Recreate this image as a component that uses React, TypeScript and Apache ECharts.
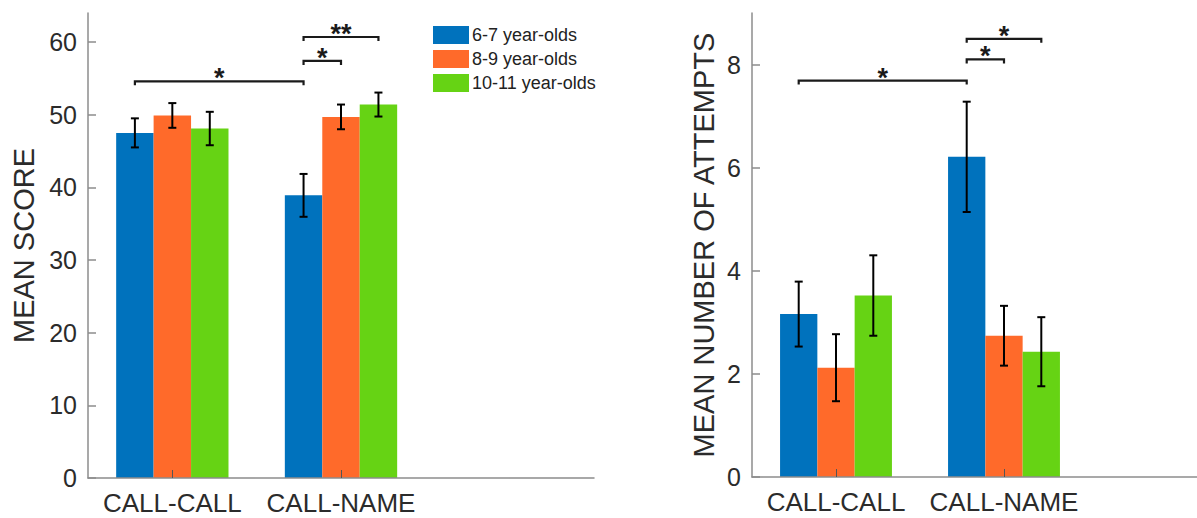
import React, { useEffect, useRef } from 'react';
import * as echarts from 'echarts';

const categories = ['CALL-CALL', 'CALL-NAME'];
const groupNames = ['6-7 year-olds', '8-9 year-olds', '10-11 year-olds'];
const groupColors = ['#0072BD', '#FF6A2A', '#66D314'];

// Left panel: mean score
const scoreMean67 = [47.5, 38.9];
const scoreMean89 = [49.9, 49.7];
const scoreMean1011 = [48.1, 51.4];
const scoreErr67 = [2.0, 2.95];
const scoreErr89 = [1.7, 1.7];
const scoreErr1011 = [2.3, 1.65];
const scoreTicks = [0, 10, 20, 30, 40, 50, 60];

// Right panel: mean number of attempts
const attMean67 = [3.16, 6.21];
const attMean89 = [2.12, 2.74];
const attMean1011 = [3.52, 2.43];
const attErr67 = [0.63, 1.07];
const attErr89 = [0.65, 0.58];
const attErr1011 = [0.78, 0.67];
const attTicks = [0, 2, 4, 6, 8];

// Significance brackets: [category, group] from -> to, height, label
const scoreBrFrom = [[0, 0], [1, 0], [1, 0]];
const scoreBrTo = [[1, 0], [1, 1], [1, 2]];
const scoreBrY = [54.6, 57.4, 60.7];
const scoreBrLabel = ['*', '*', '**'];

const attBrFrom = [[0, 0], [1, 0], [1, 0]];
const attBrTo = [[1, 0], [1, 1], [1, 2]];
const attBrY = [7.69, 8.1, 8.5];
const attBrLabel = ['*', '*', '*'];

const BAR_W = 0.222;
const OFFSETS = [-BAR_W, 0, BAR_W];
const FONT = '"Liberation Sans", Arial, Helvetica, sans-serif';
const TXT = '#2b2b2b';
const AXIS = '#8c8c8c';

function barRender(k: number) {
  return (params: any, api: any) => {
    const x = api.value(0) + OFFSETS[k];
    const v = api.value(1);
    const e = api.value(2);
    const tl = api.coord([x - BAR_W / 2, v]);
    const br = api.coord([x + BAR_W / 2, 0]);
    const top = api.coord([x, v + e]);
    const bot = api.coord([x, v - e]);
    const cw = 4;
    return {
      type: 'group',
      children: [
        { type: 'rect', shape: { x: tl[0], y: tl[1], width: br[0] - tl[0], height: br[1] - tl[1] }, style: { fill: groupColors[k] } },
        { type: 'line', shape: { x1: top[0], y1: top[1], x2: bot[0], y2: bot[1] }, style: { stroke: '#000', lineWidth: 2 }, z2: 10 },
        { type: 'line', shape: { x1: top[0] - cw, y1: top[1], x2: top[0] + cw, y2: top[1] }, style: { stroke: '#000', lineWidth: 2 }, z2: 10 },
        { type: 'line', shape: { x1: bot[0] - cw, y1: bot[1], x2: bot[0] + cw, y2: bot[1] }, style: { stroke: '#000', lineWidth: 2 }, z2: 10 },
      ],
    };
  };
}

function bracketRender(labels: string[]) {
  return (params: any, api: any) => {
    const x1 = api.value(0);
    const x2 = api.value(1);
    const y = api.value(2);
    const p1 = api.coord([x1, y]);
    const p2 = api.coord([x2, y]);
    const d = 4;
    return {
      type: 'group',
      children: [
        {
          type: 'polyline',
          shape: { points: [[p1[0], p1[1] + d], [p1[0], p1[1]], [p2[0], p2[1]], [p2[0], p2[1] + d]] },
          style: { stroke: '#1a1a1a', lineWidth: 2.2, fill: 'none' },
        },
        {
          type: 'text',
          x: (p1[0] + p2[0]) / 2,
          y: p1[1] - 3,
          style: { text: labels[params.dataIndex], fontSize: 27, fontWeight: 'bold', fontFamily: FONT, fill: '#1a1a1a', align: 'center', verticalAlign: 'middle' },
        },
      ],
    };
  };
}

function pos(ci: number, gi: number) {
  return ci + 1 + OFFSETS[gi];
}

function makeXAxis(gridIndex: number, max: number) {
  return {
    type: 'value',
    gridIndex,
    min: 0.5,
    max,
    z: 5,
    axisLine: { show: true, lineStyle: { color: AXIS, width: 1.5 } },
    axisTick: { show: true, inside: true, length: 8, customValues: [1, 2], lineStyle: { color: '#555', width: 1 } },
    axisLabel: {
      customValues: [1, 2],
      formatter: (v: number) => categories[Math.round(v) - 1] || '',
      fontSize: 26,
      fontFamily: FONT,
      color: TXT,
      margin: 12,
    },
    splitLine: { show: false },
  };
}

function makeYAxis(gridIndex: number, max: number, ticks: number[], name: string, nameGap: number) {
  return {
    type: 'value',
    gridIndex,
    min: 0,
    max,
    name,
    nameLocation: 'middle',
    nameGap,
    nameTextStyle: { fontSize: 29, fontFamily: FONT, color: TXT },
    z: 5,
    axisLine: { show: true, lineStyle: { color: AXIS, width: 1.5 } },
    axisTick: { show: true, inside: true, length: 8, customValues: ticks, lineStyle: { color: AXIS, width: 1.5 } },
    axisLabel: { customValues: ticks, fontSize: 25, fontFamily: FONT, color: TXT, margin: 11 },
    splitLine: { show: false },
  };
}

export default function App() {
  const ref = useRef<HTMLDivElement>(null);
  useEffect(() => {
    if (!ref.current) return;
    const chart = echarts.init(ref.current, undefined, { renderer: 'svg' });
    const scoreMeans = [scoreMean67, scoreMean89, scoreMean1011];
    const scoreErrs = [scoreErr67, scoreErr89, scoreErr1011];
    const attMeans = [attMean67, attMean89, attMean1011];
    const attErrs = [attErr67, attErr89, attErr1011];

    const series: any[] = [];
    [0, 1].forEach((gridIdx) => {
      const means = gridIdx === 0 ? scoreMeans : attMeans;
      const errs = gridIdx === 0 ? scoreErrs : attErrs;
      groupNames.forEach((name, k) => {
        series.push({
          type: 'custom',
          name,
          xAxisIndex: gridIdx,
          yAxisIndex: gridIdx,
          itemStyle: { color: groupColors[k] },
          renderItem: barRender(k),
          encode: { x: 0, y: 1 },
          data: means[k].map((m, i) => [i + 1, m, errs[k][i]]),
        });
      });
    });
    const brackets = [
      { from: scoreBrFrom, to: scoreBrTo, y: scoreBrY, labels: scoreBrLabel },
      { from: attBrFrom, to: attBrTo, y: attBrY, labels: attBrLabel },
    ];
    brackets.forEach((b, gridIdx) => {
      series.push({
        type: 'custom',
        xAxisIndex: gridIdx,
        yAxisIndex: gridIdx,
        renderItem: bracketRender(b.labels),
        encode: { x: 0, y: 2 },
        z: 4,
        data: b.from.map((f, i) => [pos(f[0], f[1]), pos(b.to[i][0], b.to[i][1]), b.y[i]]),
      });
    });

    chart.setOption({
      animation: false,
      backgroundColor: '#ffffff',
      textStyle: { fontFamily: FONT },
      legend: {
        data: groupNames,
        orient: 'vertical',
        left: 428,
        top: 21,
        itemWidth: 36,
        itemHeight: 18,
        itemGap: 6,
        icon: 'rect',
        selectedMode: false,
        textStyle: { fontSize: 18, fontFamily: FONT, color: '#222', padding: [0, 0, 0, -2] },
      },
      grid: [
        { left: 88, top: 13, width: 506, height: 465 },
        { left: 752, top: 13, width: 445, height: 464 },
      ],
      xAxis: [makeXAxis(0, 3.5), makeXAxis(1, 0.5 + 445 / 168)],
      yAxis: [
        makeYAxis(0, 64, scoreTicks, 'MEAN SCORE', 50),
        makeYAxis(1, 9, attTicks, 'MEAN NUMBER OF ATTEMPTS', 34),
      ],
      series,
    });
    return () => chart.dispose();
  }, []);
  return <div ref={ref} style={{ position: 'absolute', left: 0, top: 0, width: 1197, height: 518 }} />;
}
